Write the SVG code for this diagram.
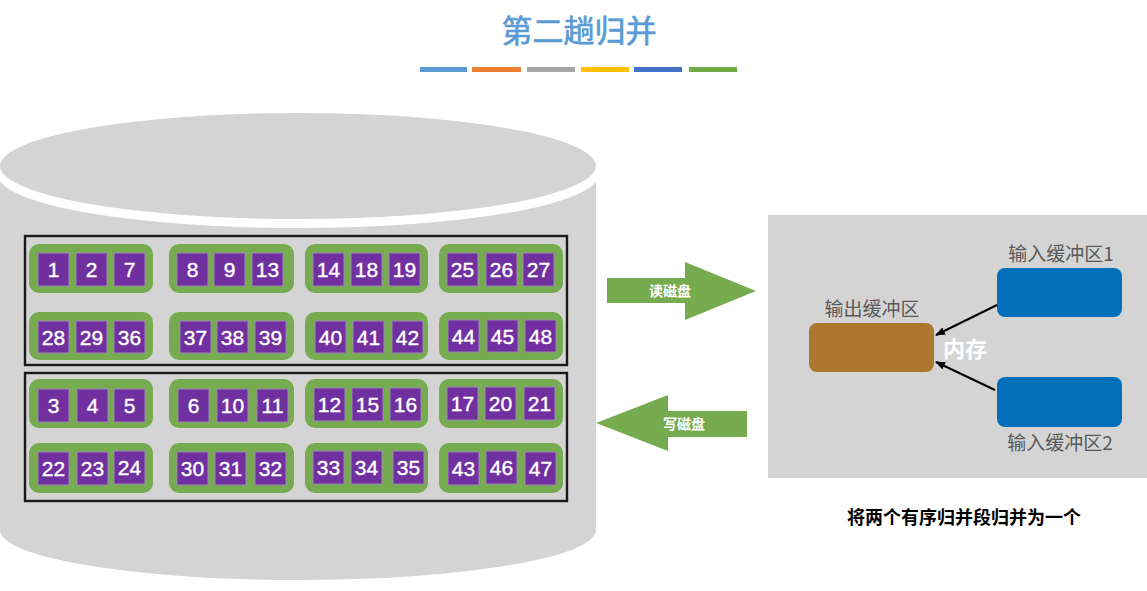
<svg xmlns="http://www.w3.org/2000/svg" width="1147" height="591" viewBox="0 0 1147 591">
<defs>
<style>
.grp{fill:#77AB50;}
.sq{fill:#7030A0;stroke:#9C88B4;stroke-width:1;}
.num{font-family:"Liberation Sans",Arial,sans-serif;font-size:21px;fill:#fff;stroke:#fff;stroke-width:0.4;text-anchor:middle;}
.cn{font-family:"Noto Sans CJK SC","Noto Sans",sans-serif;}
.lbl{font-size:19px;fill:#595959;text-anchor:middle;}
.box{fill:none;stroke:#1a1a1a;stroke-width:2.4;}
.conn{stroke:#000;stroke-width:2;fill:none;}
</style>
<marker id="ah" markerWidth="10" markerHeight="8" refX="9" refY="4" orient="auto" markerUnits="userSpaceOnUse">
<path d="M0,0 L10,4 L0,8 Z" fill="#000"/>
</marker>
</defs>
<rect width="1147" height="591" fill="#fff"/>

<g id="title">
<text x="579" y="42" class="cn" font-size="31" fill="#5B9BD5" stroke="#5B9BD5" stroke-width="0.7" text-anchor="middle">第二趟归并</text>
<rect x="420" y="67" width="47" height="5" fill="#5B9BD5"/>
<rect x="472" y="67" width="49" height="5" fill="#ED7D31"/>
<rect x="527" y="67" width="48" height="5" fill="#A5A5A5"/>
<rect x="581" y="67" width="48" height="5" fill="#FFC000"/>
<rect x="634" y="67" width="48" height="5" fill="#4472C4"/>
<rect x="689" y="67" width="48" height="5" fill="#70AD47"/>
</g>

<g id="disk">
<path d="M0,176 L0,530 A298,50 0 0 0 596,530 L596,176 Z" fill="#D4D4D4"/>
<ellipse cx="298" cy="175" rx="300" ry="53" fill="#fff"/>
<ellipse cx="298" cy="166" rx="298" ry="53" fill="#D4D4D4"/>
<rect class="box" x="25" y="236" width="542" height="129"/>
<rect class="box" x="25" y="373" width="542" height="128"/>
</g>

<g id="segments">
<g id="seg-1-2-7"><rect class="grp" x="29" y="244" width="124" height="49" rx="10"/><rect class="sq" x="38" y="253" width="31" height="33"/><rect class="sq" x="76" y="253" width="31" height="33"/><rect class="sq" x="114" y="253" width="31" height="33"/><text class="num" x="53.5" y="277">1</text><text class="num" x="91.5" y="277">2</text><text class="num" x="129.5" y="277">7</text></g>
<g id="seg-8-9-13"><rect class="grp" x="169" y="244" width="125" height="49" rx="10"/><rect class="sq" x="177" y="253" width="31" height="33"/><rect class="sq" x="214" y="253" width="31" height="33"/><rect class="sq" x="252" y="253" width="31" height="33"/><text class="num" x="192.5" y="277">8</text><text class="num" x="229.5" y="277">9</text><text class="num" x="267.5" y="277">13</text></g>
<g id="seg-14-18-19"><rect class="grp" x="305" y="244" width="123" height="49" rx="10"/><rect class="sq" x="313" y="253" width="31" height="33"/><rect class="sq" x="351" y="253" width="31" height="33"/><rect class="sq" x="389" y="253" width="31" height="33"/><text class="num" x="328.5" y="277">14</text><text class="num" x="366.5" y="277">18</text><text class="num" x="404.5" y="277">19</text></g>
<g id="seg-25-26-27"><rect class="grp" x="439" y="244" width="124" height="49" rx="10"/><rect class="sq" x="447" y="253" width="31" height="33"/><rect class="sq" x="486" y="253" width="31" height="33"/><rect class="sq" x="523" y="253" width="31" height="33"/><text class="num" x="462.5" y="277">25</text><text class="num" x="501.5" y="277">26</text><text class="num" x="538.5" y="277">27</text></g>

<g id="seg-28-29-36"><rect class="grp" x="29" y="312" width="124" height="48" rx="10"/><rect class="sq" x="38" y="321" width="31" height="32"/><rect class="sq" x="76" y="321" width="31" height="32"/><rect class="sq" x="114" y="321" width="31" height="32"/><text class="num" x="53.5" y="345">28</text><text class="num" x="91.5" y="345">29</text><text class="num" x="129.5" y="345">36</text></g>
<g id="seg-37-38-39"><rect class="grp" x="169" y="312" width="125" height="48" rx="10"/><rect class="sq" x="180" y="321" width="31" height="32"/><rect class="sq" x="217" y="321" width="31" height="32"/><rect class="sq" x="255" y="321" width="31" height="32"/><text class="num" x="195.5" y="345">37</text><text class="num" x="232.5" y="345">38</text><text class="num" x="270.5" y="345">39</text></g>
<g id="seg-40-41-42"><rect class="grp" x="305" y="312" width="123" height="48" rx="10"/><rect class="sq" x="315" y="321" width="31" height="32"/><rect class="sq" x="353" y="321" width="31" height="32"/><rect class="sq" x="392" y="321" width="31" height="32"/><text class="num" x="330.5" y="345">40</text><text class="num" x="368.5" y="345">41</text><text class="num" x="407.5" y="345">42</text></g>
<g id="seg-44-45-48"><rect class="grp" x="439" y="312" width="124" height="48" rx="10"/><rect class="sq" x="448" y="320" width="31" height="32"/><rect class="sq" x="487" y="320" width="31" height="32"/><rect class="sq" x="525" y="320" width="31" height="32"/><text class="num" x="463.5" y="344">44</text><text class="num" x="502.5" y="344">45</text><text class="num" x="540.5" y="344">48</text></g>

<g id="seg-3-4-5"><rect class="grp" x="29" y="379" width="124" height="49" rx="10"/><rect class="sq" x="38" y="389" width="31" height="33"/><rect class="sq" x="77" y="389" width="31" height="33"/><rect class="sq" x="114" y="389" width="31" height="33"/><text class="num" x="53.5" y="413">3</text><text class="num" x="92.5" y="413">4</text><text class="num" x="129.5" y="413">5</text></g>
<g id="seg-6-10-11"><rect class="grp" x="169" y="379" width="125" height="49" rx="10"/><rect class="sq" x="178" y="389" width="31" height="33"/><rect class="sq" x="217" y="389" width="31" height="33"/><rect class="sq" x="257" y="389" width="31" height="33"/><text class="num" x="193.5" y="413">6</text><text class="num" x="232.5" y="413">10</text><text class="num" x="272.5" y="413">11</text></g>
<g id="seg-12-15-16"><rect class="grp" x="305" y="379" width="123" height="49" rx="10"/><rect class="sq" x="314" y="388" width="31" height="33"/><rect class="sq" x="352" y="388" width="31" height="33"/><rect class="sq" x="390" y="388" width="31" height="33"/><text class="num" x="329.5" y="412">12</text><text class="num" x="367.5" y="412">15</text><text class="num" x="405.5" y="412">16</text></g>
<g id="seg-17-20-21"><rect class="grp" x="439" y="379" width="124" height="49" rx="10"/><rect class="sq" x="447" y="387" width="31" height="33"/><rect class="sq" x="485" y="387" width="31" height="33"/><rect class="sq" x="524" y="387" width="31" height="33"/><text class="num" x="462.5" y="411">17</text><text class="num" x="500.5" y="411">20</text><text class="num" x="539.5" y="411">21</text></g>

<g id="seg-22-23-24"><rect class="grp" x="29" y="443" width="124" height="50" rx="10"/><rect class="sq" x="38" y="452" width="31" height="33"/><rect class="sq" x="77" y="452" width="31" height="33"/><rect class="sq" x="114" y="451" width="31" height="33"/><text class="num" x="53.5" y="476">22</text><text class="num" x="92.5" y="476">23</text><text class="num" x="129.5" y="475">24</text></g>
<g id="seg-30-31-32"><rect class="grp" x="169" y="443" width="125" height="50" rx="10"/><rect class="sq" x="177" y="452" width="31" height="33"/><rect class="sq" x="215" y="452" width="31" height="33"/><rect class="sq" x="255" y="452" width="31" height="33"/><text class="num" x="192.5" y="476">30</text><text class="num" x="230.5" y="476">31</text><text class="num" x="270.5" y="476">32</text></g>
<g id="seg-33-34-35"><rect class="grp" x="305" y="443" width="123" height="50" rx="10"/><rect class="sq" x="313" y="451" width="31" height="33"/><rect class="sq" x="351" y="451" width="31" height="33"/><rect class="sq" x="393" y="451" width="31" height="33"/><text class="num" x="328.5" y="475">33</text><text class="num" x="366.5" y="475">34</text><text class="num" x="408.5" y="475">35</text></g>
<g id="seg-43-46-47"><rect class="grp" x="439" y="443" width="124" height="50" rx="10"/><rect class="sq" x="448" y="452" width="31" height="33"/><rect class="sq" x="486" y="451" width="31" height="33"/><rect class="sq" x="525" y="452" width="31" height="33"/><text class="num" x="463.5" y="476">43</text><text class="num" x="501.5" y="475">46</text><text class="num" x="540.5" y="476">47</text></g>
</g>

<g id="read-arrow">
<path d="M607,278 L685,278 L685,262 L756,291 L685,320 L685,303 L607,303 Z" fill="#77AB50"/>
<text x="670" y="296" class="cn" font-size="14" font-weight="bold" fill="#fff" text-anchor="middle">读磁盘</text>
</g>
<g id="write-arrow">
<path d="M747,411 L668,411 L668,395 L596,423 L668,451 L668,437 L747,437 Z" fill="#77AB50"/>
<text x="684" y="429" class="cn" font-size="14" font-weight="bold" fill="#fff" text-anchor="middle">写磁盘</text>
</g>

<g id="memory">
<rect x="768" y="215" width="379" height="263" fill="#D4D4D4"/>
<text x="965" y="357" class="cn" font-size="22" font-weight="bold" fill="#fff" text-anchor="middle">内存</text>
</g>
<g id="output-buffer">
<rect x="809" y="323" width="125" height="49" rx="8" fill="#AD7731"/>
<text x="872" y="316" class="cn lbl">输出缓冲区</text>
</g>
<g id="input-buffer-1">
<rect x="997" y="268" width="125" height="49" rx="8" fill="#0070BA"/>
<text x="1061" y="261" class="cn lbl">输入缓冲区1</text>
</g>
<g id="input-buffer-2">
<rect x="997" y="377" width="125" height="50" rx="8" fill="#0070BA"/>
<text x="1060" y="450" class="cn lbl">输入缓冲区2</text>
</g>

<g id="connectors">
<line class="conn" x1="997" y1="305" x2="936" y2="335" marker-end="url(#ah)"/>
<line class="conn" x1="995" y1="390" x2="936" y2="362" marker-end="url(#ah)"/>
</g>

<g id="caption">
<text x="964" y="524" class="cn" font-size="18" font-weight="bold" fill="#000" text-anchor="middle">将两个有序归并段归并为一个</text>
</g>
</svg>
